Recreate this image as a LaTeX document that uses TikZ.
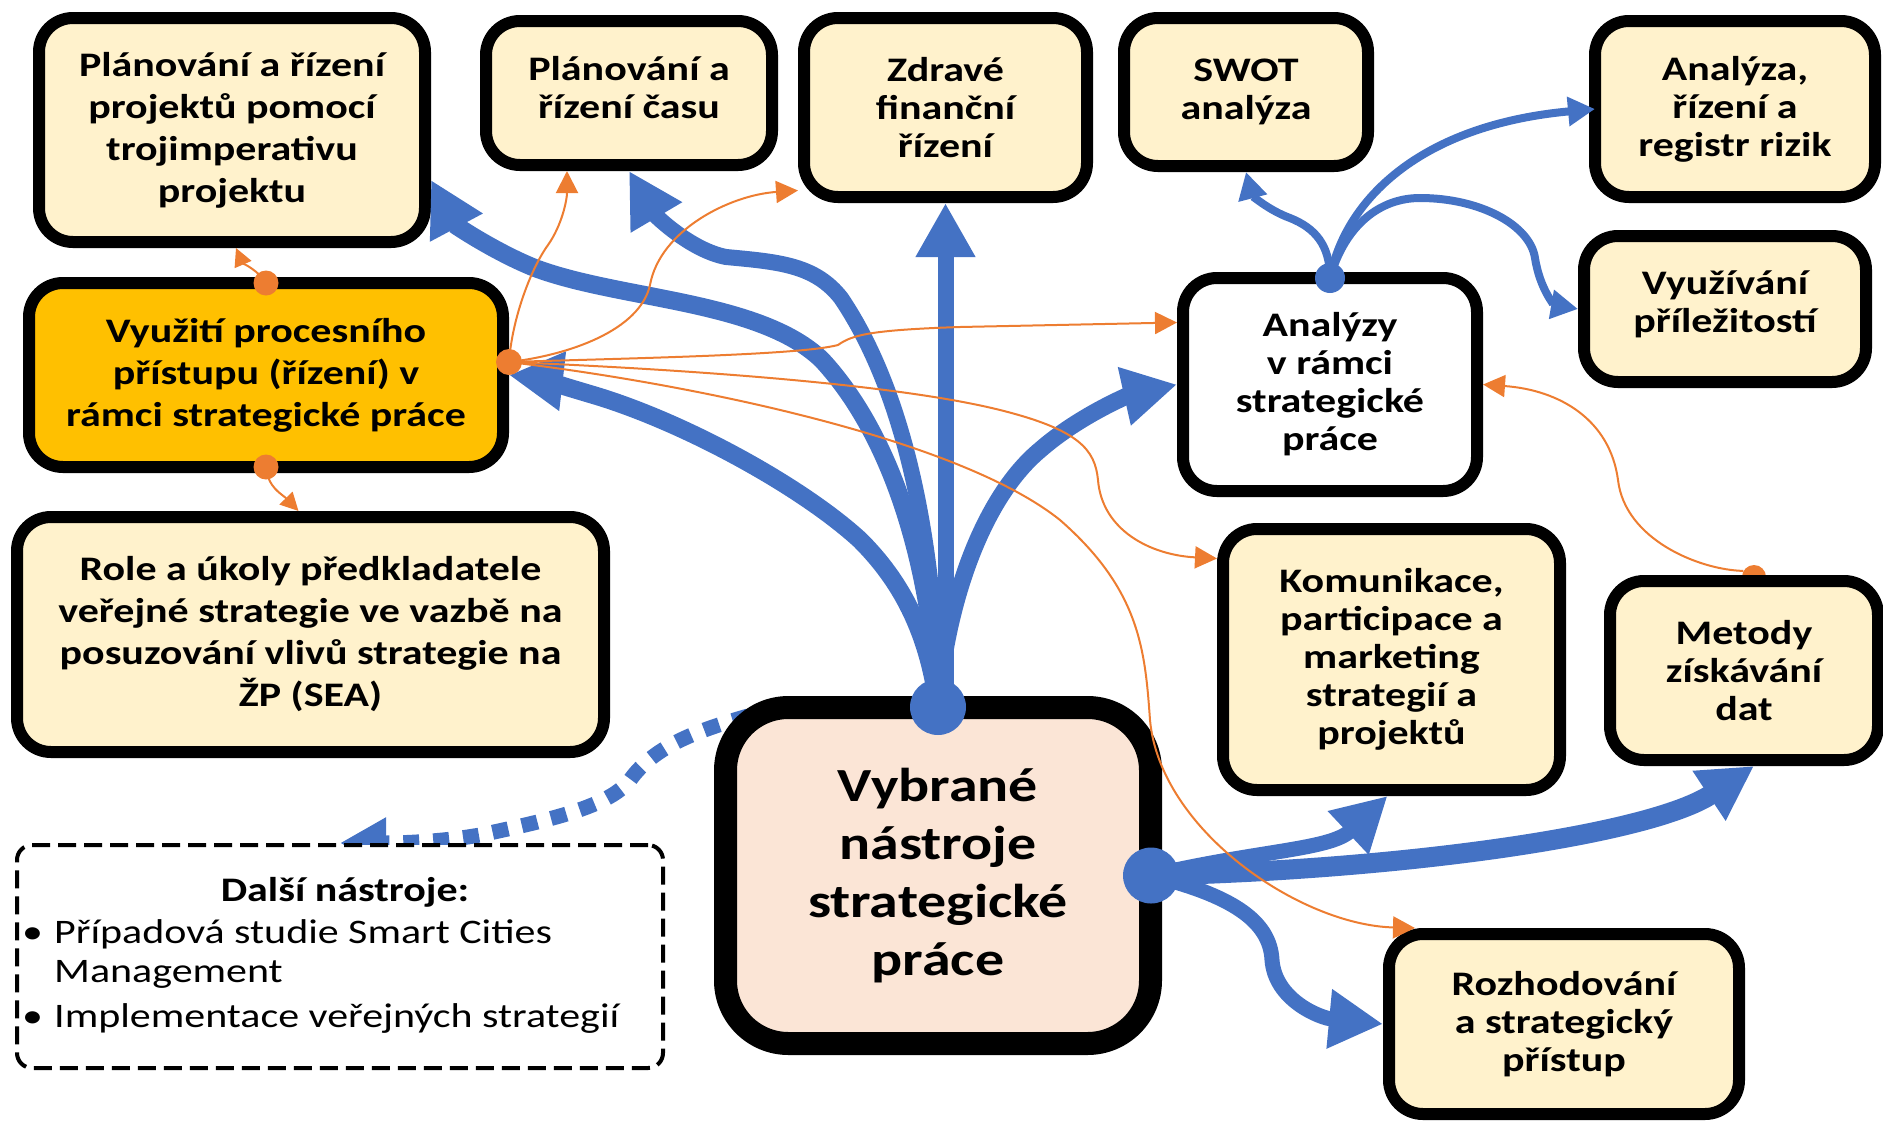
\documentclass[tikz,border=0pt]{standalone}
\usepackage{fontspec}
\setmainfont{Carlito}[FakeStretch=1.22]
\usetikzlibrary{arrows.meta}
\pgfdeclarelayer{bg}
\pgfdeclarelayer{fg}
\pgfsetlayers{bg,main,fg}
\definecolor{cream}{HTML}{FFF2CC}
\definecolor{gold}{HTML}{FFC000}
\definecolor{pinkbg}{HTML}{FBE5D6}
\definecolor{myblue}{HTML}{4472C4}
\definecolor{myorange}{HTML}{ED7D31}
\tikzset{
  bx/.style={draw=black, line width=12pt, rounded corners=34pt, fill=cream, inner sep=0pt, align=center,
    font=\bfseries\fontsize{34.4}{38}\selectfont},
  bxl/.style={bx, font=\bfseries\fontsize{34.4}{42}\selectfont},
  cbox/.style={draw=black, line width=23pt, rounded corners=63pt, fill=pinkbg, inner sep=0pt, align=center,
    minimum width=425pt, minimum height=336pt, font=\bfseries\fontsize{47.5}{58}\selectfont},
  dashbox/.style={draw=black, line width=4pt, dash pattern=on 18pt off 8pt, rounded corners=15pt, fill=white,
    minimum width=646pt, minimum height=223pt, inner sep=0pt},
  barrow/.style={draw=myblue, line width=#1, -{Triangle[length=54pt,width=56pt]}},
  sarrow/.style={draw=myblue, line width=8pt, -{Triangle[length=27pt,width=28pt]}},
  oarrow/.style={draw=myorange, line width=2pt, -{Triangle[length=22pt,width=22pt]}},
  osarrow/.style={draw=myorange, line width=2pt, -{Triangle[length=18pt,width=18pt]}},
  darrow/.style={draw=myblue, line width=15pt, dash pattern=on 16pt off 14pt, -{Triangle[length=46pt,width=48pt]}},
  bdot/.style={circle, fill=myblue, inner sep=0pt, minimum size=#1},
  odot/.style={circle, fill=myorange, inner sep=0pt, minimum size=#1},
  txt/.style={inner sep=0pt, font=\fontsize{34.4}{41}\selectfont}
}
\begin{document}
\begin{tikzpicture}[x=1pt,y=-1pt]
\useasboundingbox (0,0) rectangle (1883,1120);

% ---------- boxes ----------
\node[bxl, minimum width=386pt, minimum height=224pt] (A) at (232,130) {Plánování a řízení\\projektů pomocí\\trojimperativu\\projektu};
\node[bx, minimum width=286pt, minimum height=144pt] (B) at (629,93) {Plánování a\\řízení času\\[-26pt]\mbox{}};
\node[bx, minimum width=283pt, minimum height=179pt] (C) at (945.5,107.5) {Zdravé\\finanční\\řízení};
\node[bx, minimum width=244pt, minimum height=148pt] (D) at (1246,92) {SWOT\\analýza};
\node[bx, minimum width=280pt, minimum height=176pt] (E) at (1735,109) {Analýza,\\řízení a\\registr rizik};
\node[bxl, fill=gold, minimum width=474pt, minimum height=184pt] (F) at (266,375) {Využití procesního\\přístupu (řízení) v\\rámci strategické práce};
\node[bx, fill=white, minimum width=294pt, minimum height=213pt] (G) at (1330,384.5) {Analýzy\\v rámci\\strategické\\práce};
\node[bx, minimum width=282pt, minimum height=146pt] (H) at (1725,309) {Využívání\\příležitostí\\[-24pt]\mbox{}};
\node[bxl, minimum width=587pt, minimum height=235pt] (I) at (310.5,634.5) {Role a úkoly předkladatele\\veřejné strategie ve vazbě na\\posuzování vlivů strategie na\\ŽP (SEA)};
\node[bx, minimum width=337pt, minimum height=261pt] (J) at (1391.5,659.5) {Komunikace,\\participace a\\marketing\\strategií a\\projektů};
\node[bx, minimum width=268pt, minimum height=179pt] (K) at (1744,670.5) {Metody\\získávání\\dat};
\node[bx, minimum width=350pt, minimum height=180pt] (M) at (1564,1024) {Rozhodování\\a strategický\\přístup};
\node[cbox] (L) at (938,875.5) {Vybrané\\nástroje\\strategické\\práce};
\node[dashbox] (N) at (340,956.5) {};
\node[txt, font=\bfseries\fontsize{34.4}{41}\selectfont, anchor=base] (Nt) at (345,901) {Další nástroje:};
\node[txt, anchor=base west] (N1) at (22,943) {\makebox[32pt][l]{\textbullet}Případová studie Smart Cities};
\node[txt, anchor=base west] (N2) at (54,982) {Management};
\node[txt, anchor=base west] (N3) at (22,1027) {\makebox[32pt][l]{\textbullet}Implementace veřejných strategií};

% ---------- dots ----------
\begin{pgfonlayer}{fg}
\node[bdot=56pt] (dotTop) at ([yshift=-11pt]L.north) {};
\node[bdot=56pt] (dotR) at ([xshift=-11pt]L.east) {};
\node[bdot=30pt] (dotG) at ([yshift=-6pt]G.north) {};
\node[odot=26pt] (oF) at ([yshift=13pt]F.east) {};
\node[odot=25pt] (oFt) at ([yshift=-6pt]F.north) {};
\node[odot=25pt] (oFb) at ([yshift=6pt]F.south) {};
\end{pgfonlayer}
\begin{pgfonlayer}{bg}
\node[odot=24pt] (oK) at ([xshift=10pt,yshift=-2pt]K.north) {};
\coordinate (dS) at ([xshift=34pt,yshift=-20pt]L.north west);
\draw[darrow] (dS) .. controls (700,730) and (655,745) .. (630,780)
  .. controls (610,805) and (560,818) .. (480,835)
  .. controls (440,842) and (400,843) .. (N.north);
\end{pgfonlayer}

% ---------- blue fan from the top dot ----------
\draw[barrow=18pt] (dotTop.center) .. controls (934,600) and (905,450) .. (822,360)
  .. controls (760,300) and (620,300) .. (535,268)
  .. controls (495,252) and (455,225) .. ([yshift=-50pt]A.east);
\draw[barrow=16pt] (dotTop.center) .. controls (936,560) and (910,400) .. (841,298)
  .. controls (815,265) and (780,262) .. (726,257)
  .. controls (690,250) and (655,215) .. (B.south);
\draw[barrow=16pt] (dotTop.center -| C.south) -- (C.south);
\draw[barrow=18pt] (dotTop.center) .. controls (928,630) and (900,580) .. (860,540)
  .. controls (800,485) and (680,420) .. (590,394)
  .. controls (560,385) and (535,378) .. (F.east);
\draw[barrow=17pt] (dotTop.center) .. controls (945,610) and (980,500) .. (1040,450)
  .. controls (1080,415) and (1130,395) .. (G.west);

% ---------- blue arrows from the right dot ----------
\draw[barrow=15pt] (dotR.center) .. controls (1260,850) and (1330,850) .. ([xshift=-4pt]J.south);
\draw[barrow=20pt] (dotR.center) .. controls (1400,870) and (1650,835) .. ([xshift=10pt]K.south);
\draw[barrow=15pt] (dotR.center) .. controls (1230,895) and (1270,920) .. (1272,960)
  .. controls (1275,1000) and (1320,1018) .. (M.west);

% ---------- blue arrows from the analysis dot ----------
\draw[sarrow] (dotG.center) .. controls (1330,245) and (1315,228) .. (1290,218)
  .. controls (1268,210) and (1252,195) .. (D.south);
\draw[sarrow] (dotG.center) .. controls (1345,200) and (1420,125) .. ([xshift=6pt]E.west);
\draw[sarrow] (dotG.center) .. controls (1345,225) and (1380,198) .. (1420,198)
  .. controls (1480,198) and (1530,225) .. (1535,258)
  .. controls (1540,290) and (1555,305) .. (H.west);

% ---------- orange arrows ----------
\draw[oarrow] (oF.center) .. controls (512,320) and (530,270) .. (548,245)
  .. controls (562,225) and (567,200) .. ([xshift=-62pt]B.south);
\draw[oarrow] (oF.center) .. controls (570,355) and (640,330) .. (650,285)
  .. controls (660,230) and (730,195) .. ([yshift=-83pt]C.west);
\draw[oarrow] (oF.center) .. controls (640,358) and (800,355) .. (838,345)
  .. controls (852,335) and (870,330) .. (960,327) -- ([yshift=62pt]G.west);
\draw[oarrow] (oF.center) .. controls (700,370) and (900,385) .. (1000,410)
  .. controls (1080,430) and (1095,450) .. (1098,480)
  .. controls (1102,530) and (1150,555) .. ([yshift=101pt]J.west);
\draw[oarrow] (oF.center) .. controls (700,385) and (960,440) .. (1060,520)
  .. controls (1140,590) and (1145,650) .. (1150,720)
  .. controls (1160,830) and (1300,925) .. ([xshift=-149pt]M.north);
\draw[osarrow] (oFt.center) .. controls (260,272) and (242,262) .. ([xshift=4pt]A.south);
\draw[osarrow] (oFb.center) .. controls (268,488) and (282,494) .. ([xshift=-12pt]I.north);
\draw[oarrow] (oK.150) .. controls (1700,570) and (1625,540) .. (1618,480)
  .. controls (1610,420) and (1560,390) .. (G.east);
\end{tikzpicture}
\end{document}
